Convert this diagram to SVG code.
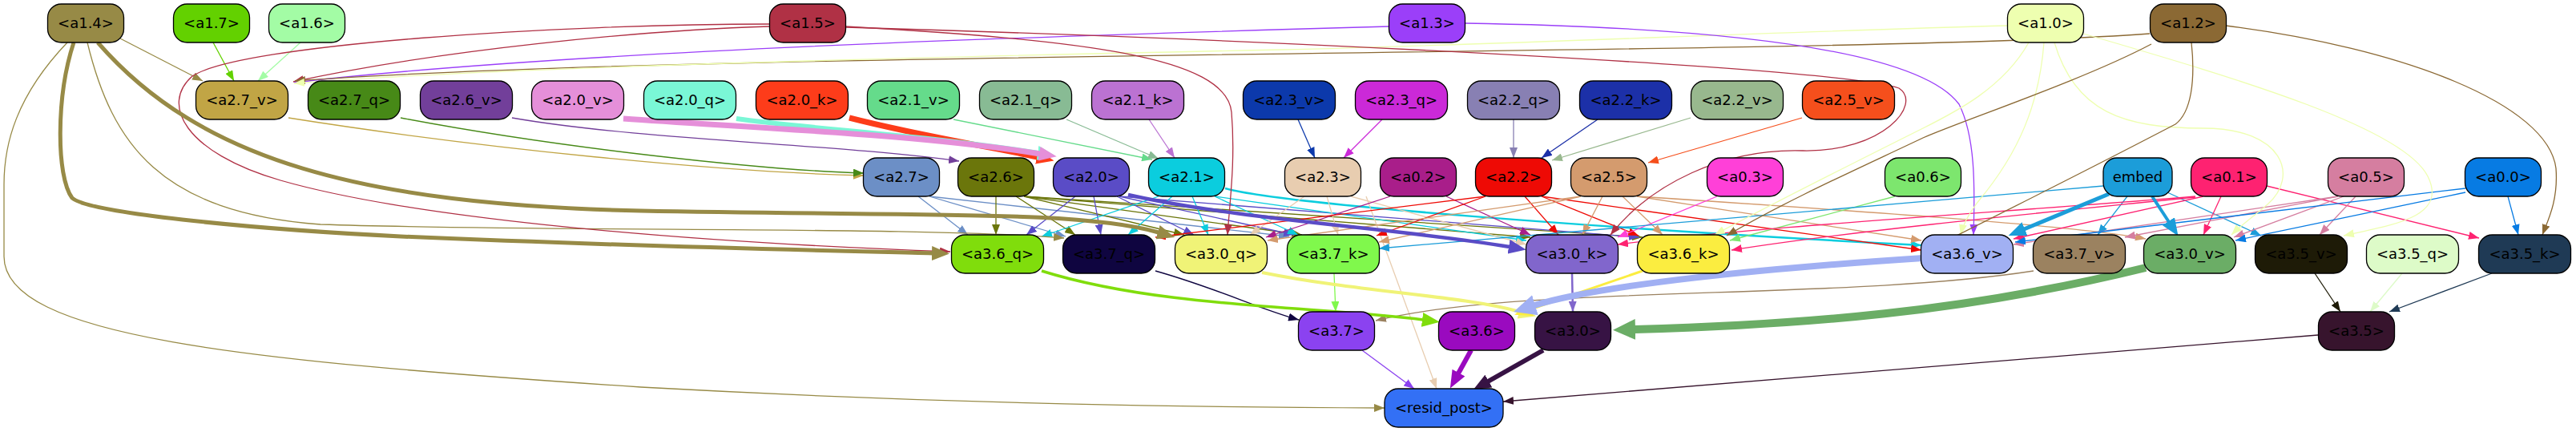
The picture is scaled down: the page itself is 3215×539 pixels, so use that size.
<svg xmlns="http://www.w3.org/2000/svg" width="3215" height="539" viewBox="0 0 3215 539">
<style>
.n rect{stroke:#000;stroke-width:1.3}
.n text{font-family:"DejaVu Sans","Liberation Sans",sans-serif;font-size:18px;text-anchor:middle;fill:#000}
.e{fill:none;stroke-width:1.3}
</style>
<defs>
<marker id="m_k14" viewBox="0 0 13 10" refX="13" refY="5" markerWidth="13" markerHeight="10" markerUnits="userSpaceOnUse" orient="auto"><path d="M0,0L13,5L0,10z" fill="#978a46"/></marker>
<marker id="b_k14" viewBox="0 0 22 18" refX="1" refY="9" markerWidth="22" markerHeight="18" markerUnits="userSpaceOnUse" orient="auto"><path d="M0,0L22,9L0,18z" fill="#978a46"/></marker>
<marker id="m_k17" viewBox="0 0 13 10" refX="13" refY="5" markerWidth="13" markerHeight="10" markerUnits="userSpaceOnUse" orient="auto"><path d="M0,0L13,5L0,10z" fill="#63d100"/></marker>
<marker id="m_k16" viewBox="0 0 13 10" refX="13" refY="5" markerWidth="13" markerHeight="10" markerUnits="userSpaceOnUse" orient="auto"><path d="M0,0L13,5L0,10z" fill="#a3fca5"/></marker>
<marker id="m_k15" viewBox="0 0 13 10" refX="13" refY="5" markerWidth="13" markerHeight="10" markerUnits="userSpaceOnUse" orient="auto"><path d="M0,0L13,5L0,10z" fill="#b03145"/></marker>
<marker id="m_k13" viewBox="0 0 13 10" refX="13" refY="5" markerWidth="13" markerHeight="10" markerUnits="userSpaceOnUse" orient="auto"><path d="M0,0L13,5L0,10z" fill="#9b3ff9"/></marker>
<marker id="m_k10" viewBox="0 0 13 10" refX="13" refY="5" markerWidth="13" markerHeight="10" markerUnits="userSpaceOnUse" orient="auto"><path d="M0,0L13,5L0,10z" fill="#eeffb0"/></marker>
<marker id="m_k12" viewBox="0 0 13 10" refX="13" refY="5" markerWidth="13" markerHeight="10" markerUnits="userSpaceOnUse" orient="auto"><path d="M0,0L13,5L0,10z" fill="#8b6934"/></marker>
<marker id="m_v27" viewBox="0 0 13 10" refX="13" refY="5" markerWidth="13" markerHeight="10" markerUnits="userSpaceOnUse" orient="auto"><path d="M0,0L13,5L0,10z" fill="#c1a545"/></marker>
<marker id="m_q27" viewBox="0 0 13 10" refX="13" refY="5" markerWidth="13" markerHeight="10" markerUnits="userSpaceOnUse" orient="auto"><path d="M0,0L13,5L0,10z" fill="#478917"/></marker>
<marker id="m_v26" viewBox="0 0 13 10" refX="13" refY="5" markerWidth="13" markerHeight="10" markerUnits="userSpaceOnUse" orient="auto"><path d="M0,0L13,5L0,10z" fill="#723f9a"/></marker>
<marker id="b_v20" viewBox="0 0 22 18" refX="1" refY="9" markerWidth="22" markerHeight="18" markerUnits="userSpaceOnUse" orient="auto"><path d="M0,0L22,9L0,18z" fill="#e58fd9"/></marker>
<marker id="b_q20" viewBox="0 0 22 18" refX="1" refY="9" markerWidth="22" markerHeight="18" markerUnits="userSpaceOnUse" orient="auto"><path d="M0,0L22,9L0,18z" fill="#7af7d6"/></marker>
<marker id="b_k20" viewBox="0 0 22 18" refX="1" refY="9" markerWidth="22" markerHeight="18" markerUnits="userSpaceOnUse" orient="auto"><path d="M0,0L22,9L0,18z" fill="#fd3c1a"/></marker>
<marker id="m_v21" viewBox="0 0 13 10" refX="13" refY="5" markerWidth="13" markerHeight="10" markerUnits="userSpaceOnUse" orient="auto"><path d="M0,0L13,5L0,10z" fill="#65db8b"/></marker>
<marker id="m_q21" viewBox="0 0 13 10" refX="13" refY="5" markerWidth="13" markerHeight="10" markerUnits="userSpaceOnUse" orient="auto"><path d="M0,0L13,5L0,10z" fill="#88bb94"/></marker>
<marker id="m_k21" viewBox="0 0 13 10" refX="13" refY="5" markerWidth="13" markerHeight="10" markerUnits="userSpaceOnUse" orient="auto"><path d="M0,0L13,5L0,10z" fill="#bb72d2"/></marker>
<marker id="m_v23" viewBox="0 0 13 10" refX="13" refY="5" markerWidth="13" markerHeight="10" markerUnits="userSpaceOnUse" orient="auto"><path d="M0,0L13,5L0,10z" fill="#0c39ab"/></marker>
<marker id="m_q23" viewBox="0 0 13 10" refX="13" refY="5" markerWidth="13" markerHeight="10" markerUnits="userSpaceOnUse" orient="auto"><path d="M0,0L13,5L0,10z" fill="#cb29d8"/></marker>
<marker id="m_q22" viewBox="0 0 13 10" refX="13" refY="5" markerWidth="13" markerHeight="10" markerUnits="userSpaceOnUse" orient="auto"><path d="M0,0L13,5L0,10z" fill="#8880b3"/></marker>
<marker id="m_k22" viewBox="0 0 13 10" refX="13" refY="5" markerWidth="13" markerHeight="10" markerUnits="userSpaceOnUse" orient="auto"><path d="M0,0L13,5L0,10z" fill="#1c30a8"/></marker>
<marker id="m_v22" viewBox="0 0 13 10" refX="13" refY="5" markerWidth="13" markerHeight="10" markerUnits="userSpaceOnUse" orient="auto"><path d="M0,0L13,5L0,10z" fill="#98b88e"/></marker>
<marker id="m_v25" viewBox="0 0 13 10" refX="13" refY="5" markerWidth="13" markerHeight="10" markerUnits="userSpaceOnUse" orient="auto"><path d="M0,0L13,5L0,10z" fill="#f54f1c"/></marker>
<marker id="m_n27" viewBox="0 0 13 10" refX="13" refY="5" markerWidth="13" markerHeight="10" markerUnits="userSpaceOnUse" orient="auto"><path d="M0,0L13,5L0,10z" fill="#6c8fc6"/></marker>
<marker id="m_n26" viewBox="0 0 13 10" refX="13" refY="5" markerWidth="13" markerHeight="10" markerUnits="userSpaceOnUse" orient="auto"><path d="M0,0L13,5L0,10z" fill="#6b760b"/></marker>
<marker id="m_n20" viewBox="0 0 13 10" refX="13" refY="5" markerWidth="13" markerHeight="10" markerUnits="userSpaceOnUse" orient="auto"><path d="M0,0L13,5L0,10z" fill="#5a4cc6"/></marker>
<marker id="b_n20" viewBox="0 0 22 18" refX="1" refY="9" markerWidth="22" markerHeight="18" markerUnits="userSpaceOnUse" orient="auto"><path d="M0,0L22,9L0,18z" fill="#5a4cc6"/></marker>
<marker id="m_n21" viewBox="0 0 13 10" refX="13" refY="5" markerWidth="13" markerHeight="10" markerUnits="userSpaceOnUse" orient="auto"><path d="M0,0L13,5L0,10z" fill="#0bcdde"/></marker>
<marker id="m_n23" viewBox="0 0 13 10" refX="13" refY="5" markerWidth="13" markerHeight="10" markerUnits="userSpaceOnUse" orient="auto"><path d="M0,0L13,5L0,10z" fill="#e8cdb0"/></marker>
<marker id="m_n02" viewBox="0 0 13 10" refX="13" refY="5" markerWidth="13" markerHeight="10" markerUnits="userSpaceOnUse" orient="auto"><path d="M0,0L13,5L0,10z" fill="#a91e8a"/></marker>
<marker id="m_n22" viewBox="0 0 13 10" refX="13" refY="5" markerWidth="13" markerHeight="10" markerUnits="userSpaceOnUse" orient="auto"><path d="M0,0L13,5L0,10z" fill="#ee0a05"/></marker>
<marker id="m_n25" viewBox="0 0 13 10" refX="13" refY="5" markerWidth="13" markerHeight="10" markerUnits="userSpaceOnUse" orient="auto"><path d="M0,0L13,5L0,10z" fill="#d49b6e"/></marker>
<marker id="m_n03" viewBox="0 0 13 10" refX="13" refY="5" markerWidth="13" markerHeight="10" markerUnits="userSpaceOnUse" orient="auto"><path d="M0,0L13,5L0,10z" fill="#ff40d8"/></marker>
<marker id="m_n06" viewBox="0 0 13 10" refX="13" refY="5" markerWidth="13" markerHeight="10" markerUnits="userSpaceOnUse" orient="auto"><path d="M0,0L13,5L0,10z" fill="#7de66e"/></marker>
<marker id="m_emb" viewBox="0 0 13 10" refX="13" refY="5" markerWidth="13" markerHeight="10" markerUnits="userSpaceOnUse" orient="auto"><path d="M0,0L13,5L0,10z" fill="#1c9dd9"/></marker>
<marker id="b_emb" viewBox="0 0 22 18" refX="1" refY="9" markerWidth="22" markerHeight="18" markerUnits="userSpaceOnUse" orient="auto"><path d="M0,0L22,9L0,18z" fill="#1c9dd9"/></marker>
<marker id="m_n01" viewBox="0 0 13 10" refX="13" refY="5" markerWidth="13" markerHeight="10" markerUnits="userSpaceOnUse" orient="auto"><path d="M0,0L13,5L0,10z" fill="#fe2271"/></marker>
<marker id="m_n05" viewBox="0 0 13 10" refX="13" refY="5" markerWidth="13" markerHeight="10" markerUnits="userSpaceOnUse" orient="auto"><path d="M0,0L13,5L0,10z" fill="#d57ea0"/></marker>
<marker id="m_n00" viewBox="0 0 13 10" refX="13" refY="5" markerWidth="13" markerHeight="10" markerUnits="userSpaceOnUse" orient="auto"><path d="M0,0L13,5L0,10z" fill="#077be3"/></marker>
<marker id="b_q36" viewBox="0 0 22 18" refX="1" refY="9" markerWidth="22" markerHeight="18" markerUnits="userSpaceOnUse" orient="auto"><path d="M0,0L22,9L0,18z" fill="#80dd0c"/></marker>
<marker id="m_q37" viewBox="0 0 13 10" refX="13" refY="5" markerWidth="13" markerHeight="10" markerUnits="userSpaceOnUse" orient="auto"><path d="M0,0L13,5L0,10z" fill="#0f0540"/></marker>
<marker id="b_q30" viewBox="0 0 22 18" refX="1" refY="9" markerWidth="22" markerHeight="18" markerUnits="userSpaceOnUse" orient="auto"><path d="M0,0L22,9L0,18z" fill="#f0f377"/></marker>
<marker id="m_k37" viewBox="0 0 13 10" refX="13" refY="5" markerWidth="13" markerHeight="10" markerUnits="userSpaceOnUse" orient="auto"><path d="M0,0L13,5L0,10z" fill="#80f84c"/></marker>
<marker id="m_k30" viewBox="0 0 13 10" refX="13" refY="5" markerWidth="13" markerHeight="10" markerUnits="userSpaceOnUse" orient="auto"><path d="M0,0L13,5L0,10z" fill="#8166cc"/></marker>
<marker id="b_k36" viewBox="0 0 22 18" refX="1" refY="9" markerWidth="22" markerHeight="18" markerUnits="userSpaceOnUse" orient="auto"><path d="M0,0L22,9L0,18z" fill="#fbed40"/></marker>
<marker id="B_v36" viewBox="0 0 28 26" refX="1" refY="13" markerWidth="28" markerHeight="26" markerUnits="userSpaceOnUse" orient="auto"><path d="M0,0L28,13L0,26z" fill="#a1b0f3"/></marker>
<marker id="m_v37" viewBox="0 0 13 10" refX="13" refY="5" markerWidth="13" markerHeight="10" markerUnits="userSpaceOnUse" orient="auto"><path d="M0,0L13,5L0,10z" fill="#9b8260"/></marker>
<marker id="B_v30" viewBox="0 0 28 26" refX="1" refY="13" markerWidth="28" markerHeight="26" markerUnits="userSpaceOnUse" orient="auto"><path d="M0,0L28,13L0,26z" fill="#6bad66"/></marker>
<marker id="m_v35" viewBox="0 0 13 10" refX="13" refY="5" markerWidth="13" markerHeight="10" markerUnits="userSpaceOnUse" orient="auto"><path d="M0,0L13,5L0,10z" fill="#1e1b07"/></marker>
<marker id="m_q35" viewBox="0 0 13 10" refX="13" refY="5" markerWidth="13" markerHeight="10" markerUnits="userSpaceOnUse" orient="auto"><path d="M0,0L13,5L0,10z" fill="#ddfbc8"/></marker>
<marker id="m_k35" viewBox="0 0 13 10" refX="13" refY="5" markerWidth="13" markerHeight="10" markerUnits="userSpaceOnUse" orient="auto"><path d="M0,0L13,5L0,10z" fill="#1f3a55"/></marker>
<marker id="m_n37" viewBox="0 0 13 10" refX="13" refY="5" markerWidth="13" markerHeight="10" markerUnits="userSpaceOnUse" orient="auto"><path d="M0,0L13,5L0,10z" fill="#8b42f0"/></marker>
<marker id="b_n36" viewBox="0 0 22 18" refX="1" refY="9" markerWidth="22" markerHeight="18" markerUnits="userSpaceOnUse" orient="auto"><path d="M0,0L22,9L0,18z" fill="#9a0abf"/></marker>
<marker id="b_n30" viewBox="0 0 22 18" refX="1" refY="9" markerWidth="22" markerHeight="18" markerUnits="userSpaceOnUse" orient="auto"><path d="M0,0L22,9L0,18z" fill="#371344"/></marker>
<marker id="m_n35" viewBox="0 0 13 10" refX="13" refY="5" markerWidth="13" markerHeight="10" markerUnits="userSpaceOnUse" orient="auto"><path d="M0,0L13,5L0,10z" fill="#37142d"/></marker>
</defs>
<rect width="3215" height="539" fill="#fff"/>
<g id="connectors">
<path class="e" stroke="#978a46" d="M150,48 L253,101" marker-end="url(#m_k14)"/>
<path class="e" stroke="#63d100" d="M266,53 L292,101" marker-end="url(#m_k17)"/>
<path class="e" stroke="#a3fca5" d="M375,53 L322,101" marker-end="url(#m_k16)"/>
<path class="e" stroke="#b03145" d="M961,33 C800,38 550,62 366,102" marker-end="url(#m_k15)"/>
<path class="e" stroke="#9b3ff9" d="M1734,33 C1300,45 700,64 367,103" marker-end="url(#m_k13)"/>
<path class="e" stroke="#8b6934" d="M2683,42 C2300,70 900,62 368,101" marker-end="url(#m_k12)"/>
<path class="e" stroke="#eeffb0" d="M2506,32 C2200,40 1900,55 1600,62 C1100,72 600,85 367,104" marker-end="url(#m_k10)"/>
<path class="e" stroke="#c1a545" d="M360,147 C600,185 900,215 1078,219" marker-end="url(#m_v27)"/>
<path class="e" stroke="#478917" d="M500,147 C700,185 950,212 1078,216" marker-end="url(#m_q27)"/>
<path class="e" stroke="#723f9a" d="M639,147 C800,175 1050,180 1197,201" marker-end="url(#m_v26)"/>
<path class="e" stroke="#65db8b" d="M1190,149 L1438,199" marker-end="url(#m_v21)"/>
<path class="e" stroke="#88bb94" d="M1331,149 L1446,198" marker-end="url(#m_q21)"/>
<path class="e" stroke="#bb72d2" d="M1434,149 L1466,197" marker-end="url(#m_k21)"/>
<path class="e" stroke="#0c39ab" d="M1620,149 L1641,197" marker-end="url(#m_v23)"/>
<path class="e" stroke="#cb29d8" d="M1725,149 L1677,197" marker-end="url(#m_q23)"/>
<path class="e" stroke="#8880b3" d="M1889,149 L1889,197" marker-end="url(#m_q22)"/>
<path class="e" stroke="#1c30a8" d="M1994,149 L1924,197" marker-end="url(#m_k22)"/>
<path class="e" stroke="#98b88e" d="M2110,147 L1937,200" marker-end="url(#m_v22)"/>
<path class="e" stroke="#f54f1c" d="M2249,147 L2057,203" marker-end="url(#m_v25)"/>
<path class="e" stroke="#6c8fc6" d="M1146,245 L1208,293" marker-end="url(#m_n27)"/>
<path class="e" stroke="#6c8fc6" d="M1160,245 L1330,295" marker-end="url(#m_n27)"/>
<path class="e" stroke="#6c8fc6" d="M1160,245 L1609,295" marker-end="url(#m_n27)"/>
<path class="e" stroke="#6b760b" d="M1243,245 L1243,293" marker-end="url(#m_n26)"/>
<path class="e" stroke="#6b760b" d="M1268,245 L1342,293" marker-end="url(#m_n26)"/>
<path class="e" stroke="#6b760b" d="M1278,245 L1478,293" marker-end="url(#m_n26)"/>
<path class="e" stroke="#6b760b" d="M1278,245 L1625,293" marker-end="url(#m_n26)"/>
<path class="e" stroke="#6b760b" d="M1278,245 L1910,296" marker-end="url(#m_n26)"/>
<path class="e" stroke="#6b760b" d="M1278,245 L2050,296" marker-end="url(#m_n26)"/>
<path class="e" stroke="#5a4cc6" d="M1342,245 L1281,293" marker-end="url(#m_n20)"/>
<path class="e" stroke="#5a4cc6" d="M1365,245 L1374,293" marker-end="url(#m_n20)"/>
<path class="e" stroke="#5a4cc6" d="M1394,245 L1490,293" marker-end="url(#m_n20)"/>
<path class="e" stroke="#5a4cc6" d="M1397,245 L1615,293" marker-end="url(#m_n20)"/>
<path class="e" stroke="#5a4cc6" d="M1397,245 L2046,296" marker-end="url(#m_n20)"/>
<path class="e" stroke="#0bcdde" d="M1446,245 L1300,295" marker-end="url(#m_n21)"/>
<path class="e" stroke="#0bcdde" d="M1463,245 L1408,293" marker-end="url(#m_n21)"/>
<path class="e" stroke="#0bcdde" d="M1488,245 L1508,293" marker-end="url(#m_n21)"/>
<path class="e" stroke="#0bcdde" d="M1516,245 L1620,293" marker-end="url(#m_n21)"/>
<path class="e" stroke="#0bcdde" d="M1516,245 L1905,300" marker-end="url(#m_n21)"/>
<path class="e" stroke="#0bcdde" style="stroke-width:2.5" d="M1529,235 C1600,255 2000,285 2398,306" marker-end="url(#m_n21)"/>
<path class="e" stroke="#e8cdb0" d="M1628,245 L1560,293" marker-end="url(#m_n23)"/>
<path class="e" stroke="#e8cdb0" d="M1656,245 L1670,293" marker-end="url(#m_n23)"/>
<path class="e" stroke="#e8cdb0" d="M1686,245 L1905,305" marker-end="url(#m_n23)"/>
<path class="e" stroke="#e8cdb0" d="M1705,245 L1793,485" marker-end="url(#m_n23)"/>
<path class="e" stroke="#a91e8a" d="M1735,245 L1580,296" marker-end="url(#m_n02)"/>
<path class="e" stroke="#a91e8a" d="M1805,245 L1910,293" marker-end="url(#m_n02)"/>
<path class="e" stroke="#ee0a05" d="M1854,245 L1442,296" marker-end="url(#m_n22)"/>
<path class="e" stroke="#ee0a05" d="M1854,245 L1718,294" marker-end="url(#m_n22)"/>
<path class="e" stroke="#ee0a05" d="M1903,245 L1945,293" marker-end="url(#m_n22)"/>
<path class="e" stroke="#ee0a05" d="M1924,245 L2045,294" marker-end="url(#m_n22)"/>
<path class="e" stroke="#ee0a05" d="M1924,245 L2398,312" marker-end="url(#m_n22)"/>
<path class="e" stroke="#d49b6e" d="M1973,245 L1582,300" marker-end="url(#m_n25)"/>
<path class="e" stroke="#d49b6e" d="M1973,245 L1721,302" marker-end="url(#m_n25)"/>
<path class="e" stroke="#d49b6e" d="M2000,245 L1975,293" marker-end="url(#m_n25)"/>
<path class="e" stroke="#d49b6e" d="M2025,245 L2075,293" marker-end="url(#m_n25)"/>
<path class="e" stroke="#d49b6e" d="M2043,245 L2398,300" marker-end="url(#m_n25)"/>
<path class="e" stroke="#d49b6e" d="M2043,245 C2300,262 2600,282 2678,298" marker-end="url(#m_n25)"/>
<path class="e" stroke="#ff40d8" d="M2143,245 L2019,296" marker-end="url(#m_n03)"/>
<path class="e" stroke="#7de66e" d="M2365,245 L2159,300" marker-end="url(#m_n06)"/>
<path class="e" stroke="#1c9dd9" d="M2625,232 L1721,310" marker-end="url(#m_emb)"/>
<path class="e" stroke="#1c9dd9" d="M2655,245 L2618,293" marker-end="url(#m_emb)"/>
<path class="e" stroke="#1c9dd9" d="M2705,240 L2822,294" marker-end="url(#m_emb)"/>
<path class="e" stroke="#fe2271" d="M2740,245 C2500,265 2200,282 2019,305" marker-end="url(#m_n01)"/>
<path class="e" stroke="#fe2271" d="M2740,246 C2500,270 2300,290 2161,312" marker-end="url(#m_n01)"/>
<path class="e" stroke="#fe2271" d="M2750,245 L2513,298" marker-end="url(#m_n01)"/>
<path class="e" stroke="#fe2271" d="M2772,245 L2750,293" marker-end="url(#m_n01)"/>
<path class="e" stroke="#fe2271" d="M2829,232 L3094,297" marker-end="url(#m_n01)"/>
<path class="e" stroke="#d57ea0" d="M2918,245 L2513,305" marker-end="url(#m_n05)"/>
<path class="e" stroke="#d57ea0" d="M2918,245 L2652,296" marker-end="url(#m_n05)"/>
<path class="e" stroke="#d57ea0" d="M2925,245 L2788,296" marker-end="url(#m_n05)"/>
<path class="e" stroke="#d57ea0" d="M2940,245 L2895,293" marker-end="url(#m_n05)"/>
<path class="e" stroke="#077be3" d="M3077,235 L2515,302" marker-end="url(#m_n00)"/>
<path class="e" stroke="#077be3" d="M3077,240 L2790,300" marker-end="url(#m_n00)"/>
<path class="e" stroke="#077be3" d="M3130,245 L3143,293" marker-end="url(#m_n00)"/>
<path class="e" stroke="#978a46" d="M109,53 C140,180 200,265 400,280 C700,290 1150,282 1328,297" marker-end="url(#m_k14)"/>
<path class="e" stroke="#978a46" d="M84,53 C20,120 5,180 5,230 L5,320 C5,420 300,450 800,483 C1200,505 1500,508 1728,509" marker-end="url(#m_k14)"/>
<path class="e" stroke="#b03145" d="M961,30 C700,30 300,55 240,95 C200,130 230,190 350,225 C500,268 800,300 1186,314" marker-end="url(#m_k15)"/>
<path class="e" stroke="#b03145" d="M1055,33 C1350,50 1530,70 1537,140 C1542,200 1535,250 1532,293" marker-end="url(#m_k15)"/>
<path class="e" stroke="#b03145" d="M1055,34 C1600,50 2300,85 2370,110 C2400,130 2350,190 2250,188 C2150,185 2060,230 2010,293" marker-end="url(#m_k15)"/>
<path class="e" stroke="#9b3ff9" d="M1829,29 C2200,35 2400,70 2445,130 C2465,170 2465,230 2463,293" marker-end="url(#m_k13)"/>
<path class="e" stroke="#eeffb0" d="M2532,53 C2500,110 2440,140 2400,160 C2300,210 2200,260 2140,293" marker-end="url(#m_k10)"/>
<path class="e" stroke="#eeffb0" d="M2551,53 C2545,130 2520,190 2470,250 C2458,265 2450,280 2447,293" marker-end="url(#m_k10)"/>
<path class="e" stroke="#eeffb0" d="M2564,53 C2590,140 2650,160 2750,160 C2850,160 2870,220 2830,255 C2810,272 2795,283 2785,293" marker-end="url(#m_k10)"/>
<path class="e" stroke="#eeffb0" d="M2600,42 C2800,100 3000,160 3030,220 C3055,270 2990,280 2925,294" marker-end="url(#m_k10)"/>
<path class="e" stroke="#8b6934" d="M2778,32 C3000,60 3180,130 3190,210 C3193,250 3180,275 3173,293" marker-end="url(#m_k12)"/>
<path class="e" stroke="#8b6934" d="M2685,55 C2600,100 2450,150 2400,172 C2320,210 2230,250 2155,294" marker-end="url(#m_k12)"/>
<path class="e" stroke="#8b6934" d="M2735,53 C2740,100 2735,140 2715,155 C2600,215 2450,290 2398,316" marker-end="url(#m_k12)"/>
<path class="e" stroke="#0f0540" d="M1442,338 C1520,360 1570,385 1621,399" marker-end="url(#m_q37)"/>
<path class="e" stroke="#80f84c" d="M1665,341 L1667,389" marker-end="url(#m_k37)"/>
<path class="e" stroke="#9b8260" d="M2538,338 C2300,375 1900,355 1717,400" marker-end="url(#m_v37)"/>
<path class="e" stroke="#8166cc" style="stroke-width:2.5" d="M1962,341 L1963,389" marker-end="url(#m_k30)"/>
<path class="e" stroke="#1e1b07" d="M2889,341 L2921,389" marker-end="url(#m_v35)"/>
<path class="e" stroke="#ddfbc8" d="M2998,341 L2958,389" marker-end="url(#m_q35)"/>
<path class="e" stroke="#1f3a55" d="M3110,341 L2982,389" marker-end="url(#m_k35)"/>
<path class="e" stroke="#8b42f0" d="M1700,437 L1765,485" marker-end="url(#m_n37)"/>
<path class="e" stroke="#37142d" d="M2893,418 L1876,501" marker-end="url(#m_n35)"/>
<path class="e" stroke="#978a46" style="stroke-width:5" d="M92,53 C70,120 70,220 90,247 C110,265 300,285 500,295 C800,308 1050,313 1164,316" marker-end="url(#b_k14)"/>
<path class="e" stroke="#978a46" style="stroke-width:5" d="M122,53 C250,200 450,255 800,263 C1150,270 1350,262 1446,290" marker-end="url(#b_k14)"/>
<path class="e" stroke="#fd3c1a" style="stroke-width:7" d="M1060,147 C1150,170 1230,182 1295,196" marker-end="url(#b_k20)"/>
<path class="e" stroke="#7af7d6" style="stroke-width:6" d="M919,148 C1000,160 1150,168 1296,191" marker-end="url(#b_q20)"/>
<path class="e" stroke="#e58fd9" style="stroke-width:7" d="M778,148 C950,160 1150,168 1298,192" marker-end="url(#b_v20)"/>
<path class="e" stroke="#5a4cc6" style="stroke-width:4.5" d="M1408,243 C1550,275 1750,285 1884,308" marker-end="url(#b_n20)"/>
<path class="e" stroke="#1c9dd9" style="stroke-width:5" d="M2632,242 L2526,286" marker-end="url(#b_emb)"/>
<path class="e" stroke="#1c9dd9" style="stroke-width:4" d="M2686,245 L2707,277" marker-end="url(#b_emb)"/>
<path class="e" stroke="#80dd0c" style="stroke-width:3.5" d="M1300,338 C1450,385 1650,382 1776,399" marker-end="url(#b_q36)"/>
<path class="e" stroke="#f0f377" style="stroke-width:4" d="M1575,340 C1700,365 1820,368 1897,389" marker-end="url(#b_q30)"/>
<path class="e" stroke="#fbed40" style="stroke-width:3" d="M2050,338 L1910,386" marker-end="url(#b_k36)"/>
<path class="e" stroke="#a1b0f3" style="stroke-width:8" d="M2400,322 C2200,335 2000,355 1915,381" marker-end="url(#B_v36)"/>
<path class="e" stroke="#6bad66" style="stroke-width:10" d="M2678,334 C2450,390 2250,405 2040,411" marker-end="url(#B_v30)"/>
<path class="e" stroke="#9a0abf" style="stroke-width:6" d="M1836,437 L1820,466" marker-end="url(#b_n36)"/>
<path class="e" stroke="#371344" style="stroke-width:6" d="M1926,437 L1857,476" marker-end="url(#b_n30)"/>
</g>
<g id="a1.4" class="n"><rect x="59.5" y="5" width="95" height="48" rx="17" fill="#978a46"/><text x="107" y="35">&lt;a1.4&gt;</text></g>
<g id="a1.7" class="n"><rect x="216.5" y="5" width="95" height="48" rx="17" fill="#63d100"/><text x="264" y="35">&lt;a1.7&gt;</text></g>
<g id="a1.6" class="n"><rect x="335.5" y="5" width="95" height="48" rx="17" fill="#a3fca5"/><text x="383" y="35">&lt;a1.6&gt;</text></g>
<g id="a1.5" class="n"><rect x="960.5" y="5" width="95" height="48" rx="17" fill="#b03145"/><text x="1008" y="35">&lt;a1.5&gt;</text></g>
<g id="a1.3" class="n"><rect x="1733.5" y="5" width="95" height="48" rx="17" fill="#9b3ff9"/><text x="1781" y="35">&lt;a1.3&gt;</text></g>
<g id="a1.0" class="n"><rect x="2505.5" y="5" width="95" height="48" rx="17" fill="#eeffb0"/><text x="2553" y="35">&lt;a1.0&gt;</text></g>
<g id="a1.2" class="n"><rect x="2683.5" y="5" width="95" height="48" rx="17" fill="#8b6934"/><text x="2731" y="35">&lt;a1.2&gt;</text></g>
<g id="a2.7_v" class="n"><rect x="244.5" y="101" width="115" height="48" rx="17" fill="#c1a545"/><text x="302" y="131">&lt;a2.7_v&gt;</text></g>
<g id="a2.7_q" class="n"><rect x="384.5" y="101" width="115" height="48" rx="17" fill="#478917"/><text x="442" y="131">&lt;a2.7_q&gt;</text></g>
<g id="a2.6_v" class="n"><rect x="524.5" y="101" width="115" height="48" rx="17" fill="#723f9a"/><text x="582" y="131">&lt;a2.6_v&gt;</text></g>
<g id="a2.0_v" class="n"><rect x="663.5" y="101" width="115" height="48" rx="17" fill="#e58fd9"/><text x="721" y="131">&lt;a2.0_v&gt;</text></g>
<g id="a2.0_q" class="n"><rect x="803.5" y="101" width="115" height="48" rx="17" fill="#7af7d6"/><text x="861" y="131">&lt;a2.0_q&gt;</text></g>
<g id="a2.0_k" class="n"><rect x="943.5" y="101" width="115" height="48" rx="17" fill="#fd3c1a"/><text x="1001" y="131">&lt;a2.0_k&gt;</text></g>
<g id="a2.1_v" class="n"><rect x="1082.5" y="101" width="115" height="48" rx="17" fill="#65db8b"/><text x="1140" y="131">&lt;a2.1_v&gt;</text></g>
<g id="a2.1_q" class="n"><rect x="1222.5" y="101" width="115" height="48" rx="17" fill="#88bb94"/><text x="1280" y="131">&lt;a2.1_q&gt;</text></g>
<g id="a2.1_k" class="n"><rect x="1362.5" y="101" width="115" height="48" rx="17" fill="#bb72d2"/><text x="1420" y="131">&lt;a2.1_k&gt;</text></g>
<g id="a2.3_v" class="n"><rect x="1551.5" y="101" width="115" height="48" rx="17" fill="#0c39ab"/><text x="1609" y="131">&lt;a2.3_v&gt;</text></g>
<g id="a2.3_q" class="n"><rect x="1691.5" y="101" width="115" height="48" rx="17" fill="#cb29d8"/><text x="1749" y="131">&lt;a2.3_q&gt;</text></g>
<g id="a2.2_q" class="n"><rect x="1831.5" y="101" width="115" height="48" rx="17" fill="#8880b3"/><text x="1889" y="131">&lt;a2.2_q&gt;</text></g>
<g id="a2.2_k" class="n"><rect x="1971.5" y="101" width="115" height="48" rx="17" fill="#1c30a8"/><text x="2029" y="131">&lt;a2.2_k&gt;</text></g>
<g id="a2.2_v" class="n"><rect x="2110.5" y="101" width="115" height="48" rx="17" fill="#98b88e"/><text x="2168" y="131">&lt;a2.2_v&gt;</text></g>
<g id="a2.5_v" class="n"><rect x="2249.5" y="101" width="115" height="48" rx="17" fill="#f54f1c"/><text x="2307" y="131">&lt;a2.5_v&gt;</text></g>
<g id="a2.7" class="n"><rect x="1077.5" y="197" width="95" height="48" rx="17" fill="#6c8fc6"/><text x="1125" y="227">&lt;a2.7&gt;</text></g>
<g id="a2.6" class="n"><rect x="1195.5" y="197" width="95" height="48" rx="17" fill="#6b760b"/><text x="1243" y="227">&lt;a2.6&gt;</text></g>
<g id="a2.0" class="n"><rect x="1314.5" y="197" width="95" height="48" rx="17" fill="#5a4cc6"/><text x="1362" y="227">&lt;a2.0&gt;</text></g>
<g id="a2.1" class="n"><rect x="1433.5" y="197" width="95" height="48" rx="17" fill="#0bcdde"/><text x="1481" y="227">&lt;a2.1&gt;</text></g>
<g id="a2.3" class="n"><rect x="1603.5" y="197" width="95" height="48" rx="17" fill="#e8cdb0"/><text x="1651" y="227">&lt;a2.3&gt;</text></g>
<g id="a0.2" class="n"><rect x="1722.5" y="197" width="95" height="48" rx="17" fill="#a91e8a"/><text x="1770" y="227">&lt;a0.2&gt;</text></g>
<g id="a2.2" class="n"><rect x="1841.5" y="197" width="95" height="48" rx="17" fill="#ee0a05"/><text x="1889" y="227">&lt;a2.2&gt;</text></g>
<g id="a2.5" class="n"><rect x="1960.5" y="197" width="95" height="48" rx="17" fill="#d49b6e"/><text x="2008" y="227">&lt;a2.5&gt;</text></g>
<g id="a0.3" class="n"><rect x="2130.5" y="197" width="95" height="48" rx="17" fill="#ff40d8"/><text x="2178" y="227">&lt;a0.3&gt;</text></g>
<g id="a0.6" class="n"><rect x="2352.5" y="197" width="95" height="48" rx="17" fill="#7de66e"/><text x="2400" y="227">&lt;a0.6&gt;</text></g>
<g id="embed" class="n"><rect x="2625" y="197" width="86" height="48" rx="17" fill="#1c9dd9"/><text x="2668" y="227">embed</text></g>
<g id="a0.1" class="n"><rect x="2734.5" y="197" width="95" height="48" rx="17" fill="#fe2271"/><text x="2782" y="227">&lt;a0.1&gt;</text></g>
<g id="a0.5" class="n"><rect x="2905.5" y="197" width="95" height="48" rx="17" fill="#d57ea0"/><text x="2953" y="227">&lt;a0.5&gt;</text></g>
<g id="a0.0" class="n"><rect x="3076.5" y="197" width="95" height="48" rx="17" fill="#077be3"/><text x="3124" y="227">&lt;a0.0&gt;</text></g>
<g id="a3.6_q" class="n"><rect x="1187.5" y="293" width="115" height="48" rx="17" fill="#80dd0c"/><text x="1245" y="323">&lt;a3.6_q&gt;</text></g>
<g id="a3.7_q" class="n"><rect x="1326.5" y="293" width="115" height="48" rx="17" fill="#0f0540"/><text x="1384" y="323">&lt;a3.7_q&gt;</text></g>
<g id="a3.0_q" class="n"><rect x="1466.5" y="293" width="115" height="48" rx="17" fill="#f0f377"/><text x="1524" y="323">&lt;a3.0_q&gt;</text></g>
<g id="a3.7_k" class="n"><rect x="1606.5" y="293" width="115" height="48" rx="17" fill="#80f84c"/><text x="1664" y="323">&lt;a3.7_k&gt;</text></g>
<g id="a3.0_k" class="n"><rect x="1904.5" y="293" width="115" height="48" rx="17" fill="#8166cc"/><text x="1962" y="323">&lt;a3.0_k&gt;</text></g>
<g id="a3.6_k" class="n"><rect x="2043.5" y="293" width="115" height="48" rx="17" fill="#fbed40"/><text x="2101" y="323">&lt;a3.6_k&gt;</text></g>
<g id="a3.6_v" class="n"><rect x="2397.5" y="293" width="115" height="48" rx="17" fill="#a1b0f3"/><text x="2455" y="323">&lt;a3.6_v&gt;</text></g>
<g id="a3.7_v" class="n"><rect x="2537.5" y="293" width="115" height="48" rx="17" fill="#9b8260"/><text x="2595" y="323">&lt;a3.7_v&gt;</text></g>
<g id="a3.0_v" class="n"><rect x="2675.5" y="293" width="115" height="48" rx="17" fill="#6bad66"/><text x="2733" y="323">&lt;a3.0_v&gt;</text></g>
<g id="a3.5_v" class="n"><rect x="2814.5" y="293" width="115" height="48" rx="17" fill="#1e1b07"/><text x="2872" y="323">&lt;a3.5_v&gt;</text></g>
<g id="a3.5_q" class="n"><rect x="2953.5" y="293" width="115" height="48" rx="17" fill="#ddfbc8"/><text x="3011" y="323">&lt;a3.5_q&gt;</text></g>
<g id="a3.5_k" class="n"><rect x="3093.5" y="293" width="115" height="48" rx="17" fill="#1f3a55"/><text x="3151" y="323">&lt;a3.5_k&gt;</text></g>
<g id="a3.7" class="n"><rect x="1620.5" y="389" width="95" height="48" rx="17" fill="#8b42f0"/><text x="1668" y="419">&lt;a3.7&gt;</text></g>
<g id="a3.6" class="n"><rect x="1795.5" y="389" width="95" height="48" rx="17" fill="#9a0abf"/><text x="1843" y="419">&lt;a3.6&gt;</text></g>
<g id="a3.0" class="n"><rect x="1915.5" y="389" width="95" height="48" rx="17" fill="#371344"/><text x="1963" y="419">&lt;a3.0&gt;</text></g>
<g id="a3.5" class="n"><rect x="2893.5" y="389" width="95" height="48" rx="17" fill="#37142d"/><text x="2941" y="419">&lt;a3.5&gt;</text></g>
<g id="resid_post" class="n"><rect x="1728" y="485" width="148" height="48" rx="17" fill="#3370f5"/><text x="1802" y="515">&lt;resid_post&gt;</text></g>
</svg>
